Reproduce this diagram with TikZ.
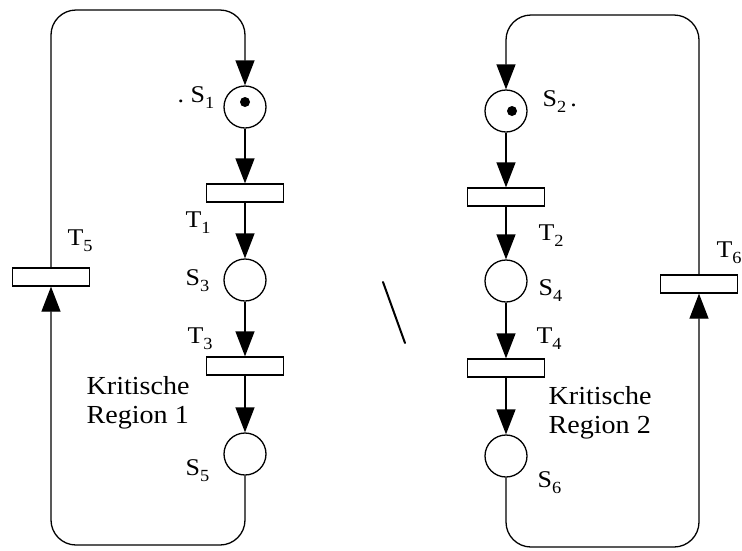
\documentclass[tikz,border=0pt]{standalone}
\usepackage{fontspec}
\setmainfont[FakeStretch=1.08]{Liberation Serif}
\usetikzlibrary{arrows.meta}
% label with a lowered index
\newcommand\nm[2]{#1\raisebox{-6pt}{\fontsize{17}{17}\selectfont #2}}
\begin{document}
\begin{tikzpicture}[x=1pt,y=-1pt,
  line width=1.3pt,
  place/.style={circle,draw,minimum size=42pt,inner sep=0pt},
  trans/.style={rectangle,draw,minimum width=77pt,minimum height=18pt,inner sep=0pt},
  flow/.style={-{Triangle[length=25pt,width=19pt]}},
  loop/.style={flow,rounded corners=25pt},
  lab/.style={anchor=base west,inner sep=0pt,font=\fontsize{24}{24}\selectfont},
  region/.style={anchor=north west,inner sep=0pt,align=left,font=\fontsize{26}{29}\selectfont}]
\fill[white] (0,0) rectangle (742,550);
\clip (0,0) rectangle (742,550);
\useasboundingbox (0,0) rectangle (742,550);

% process 1
\node[place] (S1) at (245,107) {};
\node[trans] (T1) at (245,193) {};
\node[place] (S3) at (245,280) {};
\node[trans] (T3) at (245,366) {};
\node[place] (S5) at (245,454) {};
\node[trans] (T5) at (51,277) {};

% process 2
\node[place] (S2) at (506,111) {};
\node[trans] (T2) at (506,197) {};
\node[place] (S4) at (506,281) {};
\node[trans] (T4) at (506,368) {};
\node[place] (S6) at (506,456) {};
\node[trans] (T6) at (699,284) {};

% tokens
\fill ([yshift=5pt]S1.center) circle[radius=5pt];
\fill ([xshift=6pt]S2.center) circle[radius=5pt];

% loop corners
\coordinate (topL) at (245,10);
\coordinate (botL) at (245,545);
\coordinate (topR) at (506,15);
\coordinate (botR) at (506,547);

% arcs of process 1
\draw[flow] (S1) -- (T1);
\draw[flow] (T1) -- (S3);
\draw[flow] (S3) -- (T3);
\draw[flow] (T3) -- (S5);
\draw[loop] (S5.south) -- (botL) -| (T5.south);
\draw[loop] (T5.north) |- (topL) -- (S1.north);

% arcs of process 2
\draw[flow] (S2) -- (T2);
\draw[flow] (T2) -- (S4);
\draw[flow] (S4) -- (T4);
\draw[flow] (T4) -- (S6);
\draw[loop] (S6.south) -- (botR) -| (T6.south);
\draw[loop] (T6.north) |- (topR) -- (S2.north);

% labels
\node[lab] (lS1) at (177,102) {.~\nm{S}{1}};
\node[lab] (lT1) at (185,227) {\nm{T}{1}};
\node[lab] (lS3) at (185,285) {\nm{S}{3}};
\node[lab] (lT3) at (187,343) {\nm{T}{3}};
\node[lab] (lS5) at (185,475) {\nm{S}{5}};
\node[lab] (lT5) at (67,245) {\nm{T}{5}};
\node[lab] (lS2) at (542,106) {\nm{S}{2}\,.};
\node[lab] (lT2) at (538,240) {\nm{T}{2}};
\node[lab] (lS4) at (538,295) {\nm{S}{4}};
\node[lab] (lT4) at (536,343) {\nm{T}{4}};
\node[lab] (lS6) at (537,487) {\nm{S}{6}};
\node[lab] (lT6) at (716,257) {\nm{T}{6}};

\node[region] (R1) at (86,376) {Kritische\\Region 1};
\node[region] (R2) at (548,386) {Kritische\\Region 2};

% pen stroke in the middle
\draw[line width=2pt,line cap=round] (383,282) -- (405,343);
\end{tikzpicture}
\end{document}
